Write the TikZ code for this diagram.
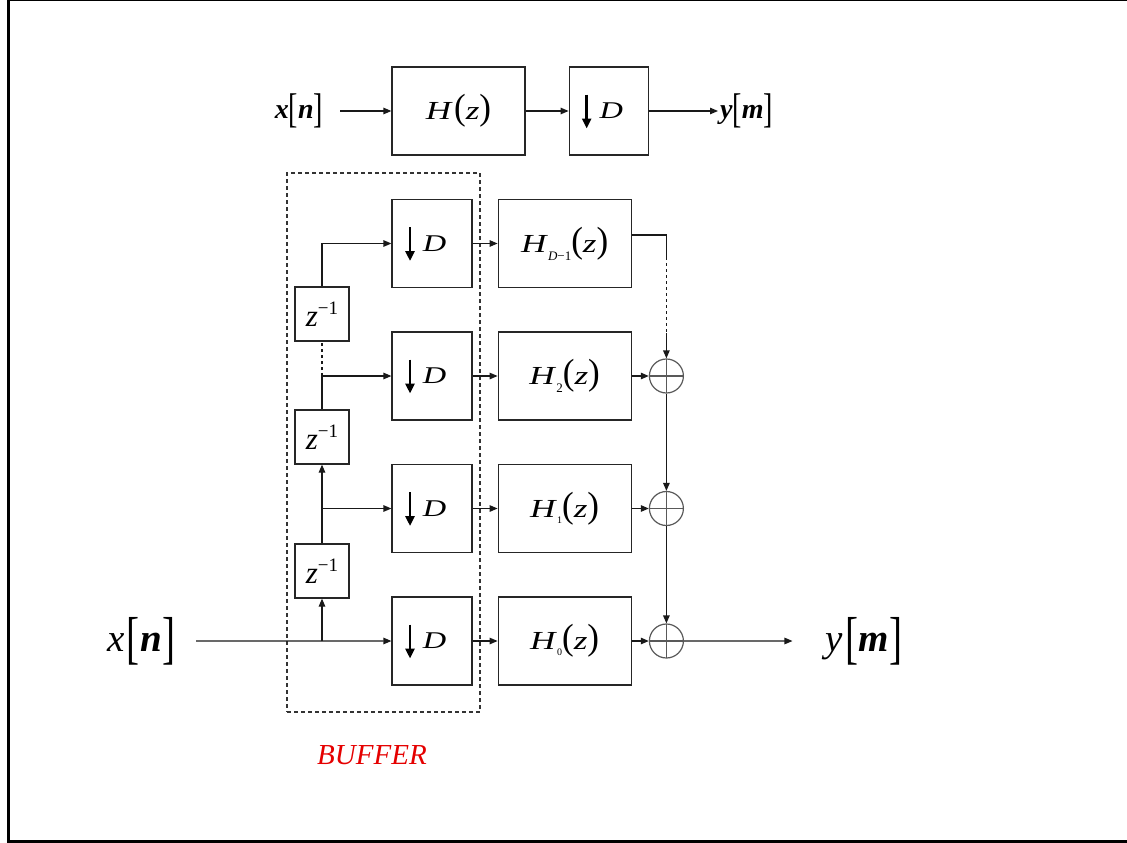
\documentclass[tikz,border=0pt]{standalone}
\usepackage{fontspec}
\setmainfont{Liberation Serif}
\usepackage{graphicx}
\usetikzlibrary{positioning,arrows.meta,fit}

\newcommand{\wide}[1]{\scalebox{1.35}[1]{#1}}
\newcommand{\lpar}{\scalebox{1}[1.4]{(}}
\newcommand{\rpar}{\scalebox{1}[1.4]{)}}
\newcommand{\lbrk}{\raisebox{-0.14em}{\scalebox{1}[1.48]{\normalfont[}}}
\newcommand{\rbrk}{\raisebox{-0.14em}{\scalebox{1}[1.48]{\normalfont]}}}
\newcommand{\Hsub}[3]{\wide{\textit{H}}\raisebox{-#2}{\fontsize{#1}{#1}\selectfont#3}\wide{\lpar\textit{z}\rpar}}
\newcommand{\zinv}{\textit{z}\raisebox{0.37em}{\fontsize{19}{19}\selectfont−1}}
\newcommand{\dn}{\hspace*{5pt}\wide{\textit{D}}}

\begin{document}
\begin{tikzpicture}[x=1pt, y=-1pt,
  >={Triangle[length=8pt,width=6.5pt]},
  blk/.style={draw=black!85, line width=1.2pt, inner sep=0pt, minimum height=88pt},
  hbox/.style={blk, minimum width=133pt, font=\fontsize{26}{30}\selectfont},
  dbox/.style={blk, minimum width=80pt, font=\fontsize{24}{28}\selectfont},
  zbox/.style={blk, minimum width=54pt, minimum height=54pt, font=\fontsize{31}{34}\selectfont},
  adder/.style={circle, draw=black!65, line width=1.2pt, minimum size=34pt, inner sep=0pt,
    path picture={\draw[black!65, line width=1.2pt]
      (path picture bounding box.north) -- (path picture bounding box.south)
      (path picture bounding box.west) -- (path picture bounding box.east);}},
  sig/.style={draw=black!90, line width=1.2pt},
  dnarrow/.style={line width=2.8pt, -{Triangle[length=10pt,width=9pt]}},
  toplbl/.style={inner sep=2pt, font=\fontsize{28}{32}\selectfont\bfseries\itshape},
  botlbl/.style={inner sep=2pt, font=\fontsize{39}{42}\selectfont\itshape},
  bufbox/.style={draw=black!80, line width=1.2pt, dash pattern=on 4pt off 3pt, inner sep=0pt},
  ]
  \useasboundingbox (0,0) rectangle (1127,843);
  \draw[line width=2.7pt] (8.3,0) -- (8.3,843);
  \draw[line width=1pt] (8.3,0.5) -- (1127,0.5);
  \draw[line width=2.7pt] (8.3,841.3) -- (1127,841.3);

  \node[hbox] (htop) at (458.5,111) {\wide{\textit{H}\kern1pt\lpar\textit{z}\rpar}};
  \node[dbox, minimum width=79pt, right=43pt of htop] (dtop) {\dn};
  \node[toplbl] (xtop) at (299,111) {x\lbrk n\rbrk};
  \node[toplbl, anchor=west] (ytop) at (718,111) {y\lbrk m\rbrk};

  \node[bufbox, fit={(287,173) (480,712)}] (buf) {};
  \node[font=\fontsize{29}{32}\selectfont\itshape, text=red!90!black] (bufl) at (372,755) {BUFFER};

  \node[dbox] (d1) at (432,243.5) {\dn};
  \node[dbox, below=43.3pt of d1] (d2) {\dn};
  \node[dbox, below=43.3pt of d2] (d3) {\dn};
  \node[dbox, below=43.3pt of d3] (d4) {\dn};
  \node[hbox, right=25pt of d1] (h1) {\Hsub{13pt}{8pt}{\textit{D}−1}};
  \node[hbox, right=25pt of d2] (h2) {\Hsub{13pt}{8pt}{2}};
  \node[hbox, right=25pt of d3] (h3) {\Hsub{10pt}{6pt}{1}};
  \node[hbox, right=25pt of d4] (h4) {\Hsub{10pt}{6pt}{0}};
  \node[adder, right=17pt of h2] (s2) {};
  \node[adder, right=17pt of h3] (s3) {};
  \node[adder, right=17pt of h4] (s4) {};
  \node[zbox] (z1) at (322,314) {\zinv};
  \node[zbox] (z2) at (322,437) {\zinv};
  \node[zbox] (z3) at (322,571) {\zinv};
  \node[botlbl] (xin) at (141,641) {x\kern2pt\lbrk\kern1pt\textbf{n}\rbrk};
  \node[botlbl] (yout) at (864,641) {y\kern2pt\lbrk\kern1pt\textbf{m}\rbrk};

  \draw[sig,->,shorten <=15pt] (xtop) -- (htop);
  \draw[sig,->] (htop) -- (dtop);
  \draw[sig,->] (dtop) -- (ytop);
  \foreach \b in {dtop,d1,d2,d3,d4}
    \draw[dnarrow] ([xshift=-22pt,yshift=16.5pt]\b.center) -- ([xshift=-22pt,yshift=-17.5pt]\b.center);
  \foreach \i in {1,...,4}
    \draw[sig,->] (d\i) -- (h\i);

  \coordinate (b2) at (z1 |- d2);
  \coordinate (b3) at (z1 |- d3);
  \coordinate (b4) at (z1 |- d4);
  \draw[sig,->,shorten <=19pt] (xin) -- (d4);
  \draw[sig,->] (b4) -- (z3);
  \draw[sig] (z3) -- (b3);
  \draw[sig,->] (b3) -- (d3);
  \draw[sig,->] (b3) -- (z2);
  \draw[sig] (z2) -- (b2);
  \draw[sig,->] (b2) -- (d2);
  \draw[sig,dashed] (b2) -- (z1);
  \draw[sig,->] (z1) |- (d1);

  \draw[sig] ([yshift=8.5pt]h1.east) -- ([yshift=8.5pt]h1.east -| s2) -- ++(0,22) coordinate (p1);
  \draw[sig,dashed] (p1) -- ++(0,76) coordinate (p2);
  \draw[sig,->] (p2) -- (s2);
  \foreach \i in {2,3,4}
    \draw[sig,->] (h\i) -- (s\i);
  \draw[sig,->] (s2) -- (s3);
  \draw[sig,->] (s3) -- (s4);
  \draw[sig,->,shorten >=31pt] (s4) -- (yout);
\end{tikzpicture}
\end{document}
